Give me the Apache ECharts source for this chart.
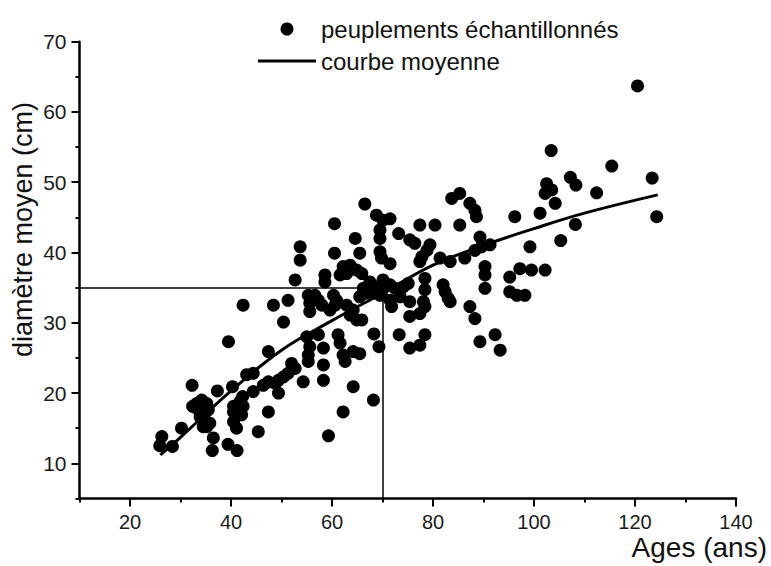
<!DOCTYPE html>
<html>
<head>
<meta charset="utf-8">
<script src="https://cdn.jsdelivr.net/npm/echarts@6/dist/echarts.min.js"></script>
<style>
html,body{margin:0;padding:0;background:#fff;}
#chart{width:771px;height:566px;}
</style>
</head>
<body>
<div id="chart"></div>
<script>
// Sampled stands: age (years) and mean diameter (cm)
const ages = [26.3,25.9,28.4,30.2,32.3,32.4,33.2,34.2,35.2,33.5,34.5,35.5,33.9,34.9,35.2,35.8,34.5,36.5,36.3,37.3,
  39.4,39.5,40.3,41.2,42.4,40.5,40.5,41.1,42.3,42.4,42.1,43.1,44.4,44.4,45.4,46.4,47.4,48.7,47.4,41.8,
  40.5,60.5,53.7,53.7,64.6,65.5,60.5,68.8,69.5,69.5,69.5,69.8,73.2,71.5,52.7,58.6,58.6,62.2,63.6,64.9,
  62.9,61.6,65.9,67.5,66.2,65.5,66.8,68.2,70.1,70.5,69.8,71.8,73.3,48.4,51.3,50.4,55.3,55.6,55.6,56.6,
  57.3,58.0,60.3,60.9,59.6,60.6,62.9,64.2,64.9,63.6,65.9,47.4,55.0,55.6,57.3,58.3,58.3,58.3,55.3,55.3,
  61.2,61.6,62.2,62.6,64.2,65.5,68.3,69.3,64.2,68.2,62.2,59.3,52.0,52.7,51.3,50.4,49.4,54.3,49.4,66.5,
  83.7,85.3,87.3,88.3,88.6,71.5,70.1,77.4,80.4,85.3,75.4,76.4,79.4,78.8,77.8,77.4,81.4,83.4,86.3,89.3,
  88.3,89.6,91.3,90.3,90.3,90.3,96.2,101.2,102.5,103.5,102.2,104.2,107.2,108.3,105.3,99.2,97.2,99.5,102.2,95.2,
  95.2,96.6,98.2,68.8,71.5,72.5,74.1,75.1,68.2,69.5,71.5,73.5,75.4,78.4,78.4,78.1,78.4,82.0,82.4,83.0,
  83.4,75.4,77.4,87.3,88.3,75.4,77.4,78.4,89.3,92.3,93.3,120.5,115.4,112.4,123.4,124.3,108.2,103.4];
const diameters = [13.8,12.5,12.4,15.0,21.1,18.1,18.5,19.0,18.5,17.6,17.1,17.6,16.6,16.1,15.2,15.7,15.2,13.6,11.8,20.3,
  12.7,27.3,20.9,11.8,32.5,17.3,15.9,15.0,19.5,18.1,16.9,22.6,22.8,20.2,14.5,21.1,21.6,21.4,17.3,18.8,
  18.1,44.1,40.8,38.9,42.0,39.9,39.9,45.3,43.2,42.0,40.1,39.2,42.7,38.4,36.1,36.8,35.8,38.0,38.2,37.5,
  37.0,36.8,37.0,35.8,34.9,33.7,34.2,34.7,36.1,35.1,34.4,32.3,28.3,32.5,33.2,30.1,33.9,32.8,31.6,33.9,
  33.2,32.5,33.9,33.2,31.8,32.5,32.5,31.8,30.4,31.1,30.4,25.9,28.0,26.6,28.3,26.4,24.0,21.8,25.4,24.5,
  28.3,27.1,25.4,24.5,25.9,25.6,28.4,26.6,20.9,19.0,17.3,13.9,24.2,23.5,22.8,22.3,21.8,21.6,20.0,46.9,
  47.7,48.4,47.0,46.0,45.1,44.8,44.6,43.9,43.9,43.9,41.8,41.3,41.1,40.3,39.4,38.7,39.2,38.7,39.2,42.2,
  40.3,40.8,41.1,38.0,36.8,34.9,45.1,45.6,49.8,48.9,48.4,47.0,50.7,49.6,41.7,40.8,37.7,37.5,37.5,36.5,
  34.4,33.9,33.9,35.1,35.4,34.9,35.1,35.6,34.2,33.9,33.2,33.7,33.0,36.3,34.7,33.0,32.3,35.4,34.4,33.5,
  33.0,30.9,31.3,32.3,30.6,26.4,26.8,28.3,27.3,28.3,26.1,63.7,52.3,48.5,50.6,45.1,44.0,54.5];

// Mean curve
const curveAges = [26, 30, 40, 50, 60, 70, 80, 90, 100, 110, 124.5];
const curveDiam = [11.2, 13.7, 20.3, 26.1, 30.3, 34.2, 38.2, 41.0, 43.4, 45.6, 48.2];

// Reference cross-hair (age 70 years, diameter 35 cm)
const refAge = 70;
const refDiam = 35;

// Axis ticks and labels
const xLabelTicks = [20, 40, 60, 80, 100, 120, 140];
const xMinorTicks = [10, 30, 50, 70, 90, 110, 130];
const yLabelTicks = [10, 20, 30, 40, 50, 60, 70];
const yMinorTicks = [5, 15, 25, 35, 45, 55, 65];

const seriesNames = ['peuplements échantillonnés', 'courbe moyenne'];
const xTitle = 'Ages (ans)';
const yTitle = 'diamètre moyen (cm)';

const FONT = '"Liberation Sans", Arial, Helvetica, sans-serif';
const INK = '#000';

const chart = echarts.init(document.getElementById('chart'), null, {renderer: 'svg'});

const scatterData = ages.map((a, i) => [a, diameters[i]]);
const curveData = curveAges.map((a, i) => [a, curveDiam[i]]);

const xMin = 10, xMax = 140, yMin = 5, yMax = 70;

chart.setOption({
  animation: false,
  backgroundColor: '#fff',
  grid: {left: 79.5, right: 35, top: 41.7, bottom: 67.6, containLabel: false},
  legend: {
    data: [
      {name: seriesNames[0], icon: 'circle'},
      {name: seriesNames[1], icon: 'path://M0,0H58V3H0Z'}
    ],
    orient: 'vertical',
    left: 258,
    top: 17,
    padding: 0,
    itemWidth: 58,
    itemHeight: 13,
    itemGap: 8,
    textStyle: {fontFamily: FONT, fontSize: 24, color: '#111'},
    selectedMode: false
  },
  xAxis: [{
    type: 'value', min: xMin, max: xMax, interval: 10,
    position: 'bottom',
    axisLine: {show: true, onZero: false, lineStyle: {color: INK, width: 2.5}},
    axisTick: {show: true, customValues: xLabelTicks, length: 8, lineStyle: {color: INK, width: 2}},
    axisLabel: {customValues: xLabelTicks, fontFamily: FONT, fontSize: 20, color: '#1a1a1a', margin: 14},
    splitLine: {show: false}
  }, {
    type: 'value', min: xMin, max: xMax, interval: 10,
    position: 'bottom',
    axisLine: {show: false, onZero: false},
    axisTick: {show: true, customValues: xMinorTicks, length: 4, lineStyle: {color: INK, width: 2}},
    axisLabel: {show: false},
    splitLine: {show: false}
  }],
  yAxis: [{
    type: 'value', min: yMin, max: yMax, interval: 5,
    position: 'left',
    axisLine: {show: true, onZero: false, lineStyle: {color: INK, width: 2.5}},
    axisTick: {show: true, customValues: yLabelTicks, length: 8, lineStyle: {color: INK, width: 2}},
    axisLabel: {customValues: yLabelTicks, fontFamily: FONT, fontSize: 21, color: '#1a1a1a', margin: 13},
    splitLine: {show: false}
  }, {
    type: 'value', min: yMin, max: yMax, interval: 5,
    position: 'left',
    axisLine: {show: false, onZero: false},
    axisTick: {show: true, customValues: yMinorTicks, length: 4, lineStyle: {color: INK, width: 2}},
    axisLabel: {show: false},
    splitLine: {show: false}
  }],
  graphic: [{
    type: 'text', right: 4, top: 533,
    style: {text: xTitle, font: '28px ' + FONT, fill: '#111'}
  }, {
    type: 'text', left: 9, top: 102, rotation: Math.PI / 2,
    style: {text: yTitle, font: '27px ' + FONT, fill: '#111'}
  }],
  series: [{
    name: seriesNames[0],
    type: 'scatter',
    data: scatterData,
    symbol: 'circle',
    symbolSize: 13,
    itemStyle: {color: INK, opacity: 1},
    z: 3,
    markLine: {
      silent: true,
      symbol: 'none',
      label: {show: false},
      lineStyle: {color: INK, width: 1.5, type: 'solid'},
      data: [
        [{coord: [xMin, refDiam]}, {coord: [refAge, refDiam]}],
        [{coord: [refAge, yMin]}, {coord: [refAge, refDiam]}]
      ]
    }
  }, {
    name: seriesNames[1],
    type: 'line',
    data: curveData,
    smooth: 0.4,
    symbol: 'none',
    lineStyle: {color: INK, width: 3},
    itemStyle: {color: INK},
    z: 4
  }]
});
</script>
</body>
</html>
